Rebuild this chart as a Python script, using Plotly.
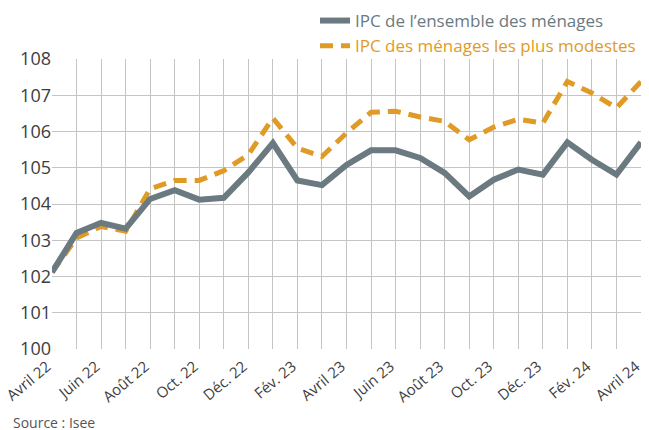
import plotly.graph_objects as go

months = ["Avril 22", "Mai 22", "Juin 22", "Juil. 22", "Août 22", "Sept. 22", "Oct. 22", "Nov. 22",
          "Déc. 22", "Janv. 23", "Fév. 23", "Mars 23", "Avril 23", "Mai 23", "Juin 23", "Juil. 23",
          "Août 23", "Sept. 23", "Oct. 23", "Nov. 23", "Déc. 23", "Janv. 24", "Fév. 24", "Mars 24", "Avril 24"]

ipc_ensemble = [102.12, 103.20, 103.48, 103.32, 104.14, 104.38, 104.12, 104.17, 104.87, 105.68,
                104.65, 104.52, 105.08, 105.48, 105.48, 105.27, 104.86, 104.21, 104.67, 104.95,
                104.81, 105.70, 105.22, 104.81, 105.70]

ipc_modestes = [102.12, 103.06, 103.38, 103.25, 104.42, 104.65, 104.65, 104.92, 105.36, 106.37,
                105.54, 105.31, 105.96, 106.53, 106.56, 106.40, 106.28, 105.77, 106.12, 106.34,
                106.23, 107.38, 107.06, 106.65, 107.38]

y_ticks = [100, 101, 102, 103, 104, 105, 106, 107, 108]

GRAY = "#6b7a80"
ORANGE = "#e09b26"
FONT = "Open Sans"

# page body has an 8px margin, so the figure is offset by 8px in the window
ML, MT = 44, 51
PW, PH = 589, 290
W, H = 649, 430

x = list(range(len(months)))
tick_idx = x[::2]

fig = go.Figure()
fig.add_trace(go.Scatter(
    x=x, y=ipc_modestes, mode="lines", legendgroup="b",
    name=f"<span style='color:{ORANGE}'>IPC des ménages les plus modestes</span>",
    line=dict(color=ORANGE, width=5, dash="13px,8px"),
))
fig.add_trace(go.Scatter(
    x=x, y=ipc_ensemble, mode="lines", legendgroup="a",
    name=f"<span style='color:{GRAY}'>IPC de l’ensemble des ménages</span>",
    line=dict(color=GRAY, width=6),
))

fig.update_layout(
    width=W, height=H,
    margin=dict(l=ML, r=W - ML - PW, t=MT, b=H - MT - PH, autoexpand=False),
    paper_bgcolor="white", plot_bgcolor="white",
    font=dict(family=FONT, color="#3d3d3d"),
    showlegend=True,
    legend=dict(
        x=1.0, xanchor="right", y=1.0 + (MT + 5) / PH, yanchor="top",
        traceorder="reversed",
        font=dict(size=17, family=FONT),
        bgcolor="rgba(0,0,0,0)",
        itemwidth=30,
        tracegroupgap=4,
    ),
    xaxis=dict(
        range=[0, 24],
        tickmode="array", tickvals=tick_idx, ticktext=[months[i] for i in tick_idx],
        tickangle=-40, tickfont=dict(size=15, family=FONT, color="#3d3d3d"),
        ticklabeloverflow="allow", ticklabelshift=-5, ticklabelstandoff=5,
        showgrid=True, gridcolor="#c4c4c4", gridwidth=1,
        minor=dict(dtick=1, tick0=0, showgrid=True, gridcolor="#c4c4c4", gridwidth=1),
        zeroline=False, showline=False, ticks="",
    ),
    yaxis=dict(
        range=[100, 108],
        tickmode="array", tickvals=y_ticks,
        tickfont=dict(size=18, family=FONT, color="#3d3d3d"),
        showgrid=True, gridcolor="#c4c4c4", gridwidth=1,
        zeroline=False, showline=False, ticks="",
    ),
)

fig.add_annotation(
    text="Source : Isee", xref="paper", yref="paper",
    x=-(ML - 3) / PW, y=-(422 - 349) / PH, xanchor="left", yanchor="middle",
    showarrow=False, font=dict(size=14, family=FONT, color="#555555"),
)

fig.write_html("out.html")
